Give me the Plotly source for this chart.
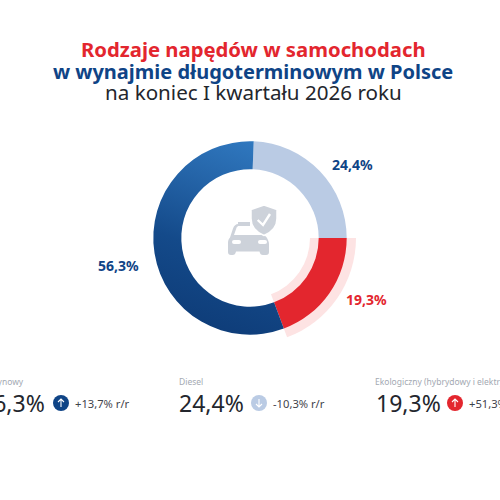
import base64
import plotly.graph_objects as go

SIZE = 500
FONT = "Noto Sans"

# Fleet shares by drive type
categories = ["Diesel", "Ekologiczny (hybrydowy i elektryczny)", "Benzynowy"]
shares = [24.4, 19.3, 56.3]
share_labels = ["24,4%", "19,3%", "56,3%"]
yoy_labels = ["-10,3% r/r", "+51,3% r/r", "+13,7% r/r"]

title_lines = [
    "Rodzaje napędów w samochodach",
    "w wynajmie długoterminowym w Polsce",
    "na koniec I kwartału 2026 roku",
]

RED = "#E3262E"
NAVY = "#0F4486"
PALE = "#BACBE4"
HALO = "#FDE3E3"
INK = "#23262D"
GREY = "#A3A9B2"
ICON = "#CDD2DA"
CENTER = (250, 238)
ROTATION = 2.2


def domain(radius):
    cx, cy = CENTER
    return dict(
        x=[(cx - radius) / SIZE, (cx + radius) / SIZE],
        y=[1 - (cy + radius) / SIZE, 1 - (cy - radius) / SIZE],
    )


fig = go.Figure()

# Pale band behind the red slice
fig.add_trace(go.Pie(
    values=shares, labels=categories, sort=False, direction="clockwise",
    rotation=ROTATION, hole=60 / 106, domain=domain(106),
    marker=dict(colors=["rgba(0,0,0,0)", HALO, "rgba(0,0,0,0)"], line=dict(width=0)),
    textinfo="none", hoverinfo="skip", showlegend=False,
))

# Main ring
fig.add_trace(go.Pie(
    values=shares, labels=categories, sort=False, direction="clockwise",
    rotation=ROTATION, hole=68.7 / 96.7, domain=domain(96.7),
    marker=dict(colors=[PALE, RED, "#1A5295"], line=dict(width=0)),
    textinfo="none", hoverinfo="skip", showlegend=False,
))


def put(text, x, y, size, color, anchor="center", bold=False):
    fig.add_annotation(
        text=f"<b>{text}</b>" if bold else text,
        x=x / SIZE, y=1 - y / SIZE, xref="paper", yref="paper",
        xanchor=anchor, yanchor="middle", showarrow=False,
        borderpad=0, borderwidth=0,
        font=dict(family=FONT, size=size, color=color),
    )


# Heading
put(title_lines[0], 253, 49, 20.3, RED, bold=True)
put(title_lines[1], 253, 71, 20, NAVY, bold=True)
put(title_lines[2], 253.5, 92, 20.6, INK)

# Ring labels
put(share_labels[0], 352, 164, 14, NAVY, bold=True)
put(share_labels[1], 366, 299, 14, RED, bold=True)
put(share_labels[2], 118, 265, 14, NAVY, bold=True)

# Summary row
put(categories[2], 24, 381, 8.5, GREY, anchor="right")
put(share_labels[2], -20, 403, 23, INK, anchor="left")
put(yoy_labels[2], 75, 403.5, 11.2, "#3F434B", anchor="left")

put(categories[0], 179, 381, 8.5, GREY, anchor="left")
put(share_labels[0], 179, 403, 23, INK, anchor="left")
put(yoy_labels[0], 273, 403.5, 11.2, "#3F434B", anchor="left")

put(categories[1], 375, 381, 8.5, GREY, anchor="left")
put(share_labels[1], 376, 403, 23, INK, anchor="left")
put(yoy_labels[1], 469, 403.5, 11.2, "#3F434B", anchor="left")


def arrow_badge(cx, cy, color, up):
    tip, tail, wing = (-4, 4, -1) if up else (4, -4, 1)
    return (
        f'<circle cx="{cx}" cy="{cy}" r="8" fill="{color}"/>'
        f'<path d="M{cx} {cy + tail}V{cy + tip}M{cx - 3} {cy + wing}L{cx} {cy + tip}L{cx + 3} {cy + wing}" '
        'fill="none" stroke="#fff" stroke-width="1.1"/>'
    )


# Central car-and-shield pictogram plus the trend badges
car = (
    f'<path fill="{ICON}" d="M238 222H250V226H239c-1 0-2 .5-2.4 1.6L234 235H261c3 0 5 1 6 3'
    'c1 2 2 4 2 6v8c0 2-1 3-3 3h-3c-2 0-3-1-3.5-3.5H236c-.5 2.5-1.5 3.5-3.5 3.5H231'
    'c-2 0-3-1-3-3v-9c0-2 .5-4 2-5.5l3-9c1-3 3-4.5 5-4.5z"/>'
    '<rect x="232" y="240" width="9" height="4" rx="2" fill="#fff"/>'
    '<rect x="258" y="240" width="9" height="4" rx="2" fill="#fff"/>'
    f'<path fill="{ICON}" stroke="#fff" stroke-width="1.5" d="M264 205l13 4.5v9c0 8-6 14-13 17'
    'c-7-3-13-9-13-17v-9z"/>'
    '<path fill="none" stroke="#fff" stroke-width="2.4" d="M257.7 220L263 225L270 214"/>'
)
overlay = (
    f'<svg xmlns="http://www.w3.org/2000/svg" width="{SIZE}" height="{SIZE}" viewBox="0 0 {SIZE} {SIZE}">'
    + car
    + arrow_badge(61, 403, NAVY, True)
    + arrow_badge(259, 403, PALE, False)
    + arrow_badge(455, 403, RED, True)
    + "</svg>"
)
fig.add_layout_image(
    source="data:image/svg+xml;base64," + base64.b64encode(overlay.encode()).decode(),
    xref="paper", yref="paper", x=0, y=1, sizex=1, sizey=1,
    xanchor="left", yanchor="top", layer="above", sizing="stretch",
)

fig.update_layout(
    width=SIZE, height=SIZE, margin=dict(l=0, r=0, t=0, b=0),
    paper_bgcolor="white", plot_bgcolor="white", showlegend=False,
)

# Vertical gradient on the largest slice of the main ring
gradient_js = """
var svg = document.querySelector('.main-svg');
var ns = 'http://www.w3.org/2000/svg';
var defs = document.createElementNS(ns, 'defs');
var grad = document.createElementNS(ns, 'linearGradient');
grad.setAttribute('id', 'ringBlue');
grad.setAttribute('x1', '0.7'); grad.setAttribute('y1', '0');
grad.setAttribute('x2', '0.45'); grad.setAttribute('y2', '1');
[['0', '#2F77BE'], ['0.25', '#2565A9'], ['0.6', '#144A8A'], ['1', '#0E3C78']].forEach(function (s) {
  var stop = document.createElementNS(ns, 'stop');
  stop.setAttribute('offset', s[0]);
  stop.setAttribute('stop-color', s[1]);
  grad.appendChild(stop);
});
defs.appendChild(grad);
svg.insertBefore(defs, svg.firstChild);
var traces = document.querySelectorAll('.pielayer .trace');
var slices = traces[1].querySelectorAll('.slice path.surface');
slices[2].style.fill = 'url(#ringBlue)';
"""

fig.write_html("out.html", post_script=gradient_js, config=dict(displayModeBar=False))
